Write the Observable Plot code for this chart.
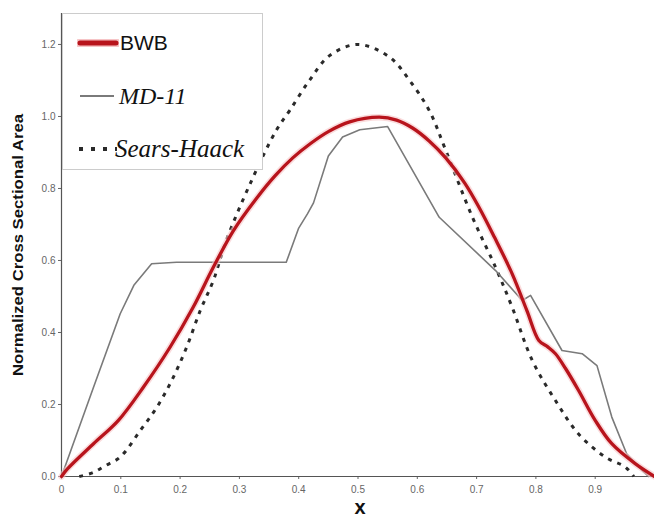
<!DOCTYPE html>
<html>
<head>
<meta charset="utf-8">
<script src="https://cdn.jsdelivr.net/npm/d3@7"></script>
<script src="https://cdn.jsdelivr.net/npm/@observablehq/plot@0.6"></script>
<style>
  html, body { margin: 0; padding: 0; background: #fff; }
  #wrap { position: relative; width: 654px; height: 520px; }
  #legend { position: absolute; left: 62px; top: 13px; width: 201px; height: 157px;
    border: 1px solid #ccc; background: #fff; box-sizing: border-box; }
  .item { position: absolute; left: 0; display: flex; align-items: center; height: 30px; }
  .lbl-sans { font-family: "Liberation Sans", Arial, sans-serif; font-size: 21px; color: #111; }
  .lbl-serif { font-family: "Liberation Serif", "Times New Roman", serif; font-style: italic; font-size: 24px; color: #111; }
</style>
</head>
<body>
<div id="wrap">
  <div id="chart"></div>
  <div id="legend"></div>
</div>
<script>
// ---- data ----
const seriesNames = ["BWB", "MD-11", "Sears-Haack"];

const bwbX = [0, 0.01, 0.054, 0.096, 0.138, 0.183, 0.222, 0.256, 0.29, 0.33, 0.36, 0.39, 0.42, 0.45, 0.486, 0.536, 0.565, 0.592, 0.62, 0.648, 0.68, 0.704, 0.73, 0.76, 0.785, 0.805, 0.82, 0.833, 0.85, 0.872, 0.9, 0.928, 0.968, 1.0];
const bwbY = [0, 0.021, 0.091, 0.156, 0.248, 0.359, 0.47, 0.581, 0.683, 0.775, 0.835, 0.885, 0.925, 0.958, 0.985, 0.998, 0.99, 0.968, 0.932, 0.885, 0.815, 0.748, 0.665, 0.563, 0.46, 0.378, 0.36, 0.341, 0.3, 0.239, 0.156, 0.091, 0.035, 0];

const mdX = [0, 0.054, 0.099, 0.122, 0.152, 0.194, 0.379, 0.40, 0.415, 0.425, 0.45, 0.474, 0.503, 0.55, 0.637, 0.732, 0.777, 0.791, 0.844, 0.878, 0.903, 0.928, 0.953, 0.979, 0.99];
const mdY = [0, 0.248, 0.452, 0.531, 0.591, 0.595, 0.595, 0.69, 0.73, 0.76, 0.89, 0.943, 0.963, 0.972, 0.72, 0.572, 0.489, 0.503, 0.35, 0.341, 0.308, 0.165, 0.063, 0.017, 0];

const shX = [0.03, 0.052, 0.074, 0.099, 0.133, 0.161, 0.186, 0.211, 0.234, 0.256, 0.278, 0.32, 0.362, 0.385, 0.418, 0.452, 0.5, 0.553, 0.587, 0.62, 0.648, 0.693, 0.732, 0.76, 0.794, 0.833, 0.872, 0.917, 0.951, 0.965];
const shY = [0, 0.01, 0.03, 0.054, 0.128, 0.193, 0.267, 0.359, 0.461, 0.544, 0.656, 0.82, 0.961, 1.017, 1.1, 1.169, 1.2, 1.165, 1.1, 1.017, 0.906, 0.72, 0.581, 0.47, 0.322, 0.211, 0.118, 0.054, 0.026, 0];

const xTicks = [0, 0.1, 0.2, 0.3, 0.4, 0.5, 0.6, 0.7, 0.8, 0.9];
const xTickLabels = ["0", "0.1", "0.2", "0.3", "0.4", "0.5", "0.6", "0.7", "0.8", "0.9"];
const yTicks = [0, 0.2, 0.4, 0.6, 0.8, 1.0, 1.2];
const yTickLabels = ["0.0", "0.2", "0.4", "0.6", "0.8", "1.0", "1.2"];
const xLabel = "x";
const yLabel = "Normalized Cross Sectional Area";

const colors = { "BWB": "#b8141c", "MD-11": "#7a7a7a", "Sears-Haack": "#2a2a2a" };

// ---- build tables ----
const bwb = bwbX.map((x, i) => ({ x, y: bwbY[i] }));
const md = mdX.map((x, i) => ({ x, y: mdY[i] }));
const sh = shX.map((x, i) => ({ x, y: shY[i] }));

const chart = Plot.plot({
  width: 654,
  height: 520,
  marginLeft: 61,
  marginRight: 0,
  marginTop: 13,
  marginBottom: 44,
  style: { fontFamily: "Liberation Sans, Arial, sans-serif", background: "#fff" },
  x: { domain: [0, 1] },
  y: { domain: [0, 1.286] },
  marks: [
    Plot.axisX({ ticks: xTicks, tickFormat: d => xTickLabels[xTicks.indexOf(d)], tickSize: 3, tickPadding: 6, fontSize: 10, color: "#666", label: null }),
    Plot.axisY({ ticks: yTicks, tickFormat: d => yTickLabels[yTicks.findIndex(t => Math.abs(t - d) < 1e-9)], tickSize: 3, tickPadding: 3, fontSize: 10, color: "#666", label: null }),
    Plot.ruleX([0], { stroke: "#555", strokeWidth: 1.2 }),
    Plot.ruleY([0], { stroke: "#555", strokeWidth: 1.2 }),
    Plot.line(sh, { x: "x", y: "y", curve: "catmull-rom", stroke: colors["Sears-Haack"], strokeWidth: 3, strokeDasharray: "4,6", strokeLinecap: "butt" }),
    Plot.line(md, { x: "x", y: "y", stroke: colors["MD-11"], strokeWidth: 1.6 }),
    Plot.line(bwb, { x: "x", y: "y", curve: "catmull-rom", stroke: "#f6c4c6", strokeWidth: 6.5, strokeOpacity: 0.6 }),
    Plot.line(bwb, { x: "x", y: "y", curve: "catmull-rom", stroke: colors["BWB"], strokeWidth: 3.3 }),
    Plot.text([yLabel], { frameAnchor: "left", textAnchor: "middle", rotate: -90, dx: -43, fontSize: 14, fontWeight: "bold", fill: "#111", className: "ylab" }),
    Plot.text([xLabel], { frameAnchor: "bottom", dy: 37, dx: 2, fontSize: 20, fontWeight: "bold", fill: "#111" })
  ]
});
// stretch the y label to the reference's length
d3.select(chart).selectAll(".ylab text").attr("textLength", 262).attr("lengthAdjust", "spacingAndGlyphs");
document.getElementById("chart").appendChild(chart);

// ---- legend ----
const legend = document.getElementById("legend");
const entries = [
  { name: seriesNames[0], top: 14, swatch: `<svg width="42" height="30"><line x1="2" y1="15" x2="40" y2="15" stroke="#f6c4c6" stroke-width="8" stroke-linecap="round"/><line x1="3" y1="15" x2="39" y2="15" stroke="${colors["BWB"]}" stroke-width="5" stroke-linecap="round"/></svg>`, cls: "lbl-sans", gap: 1, size: 21 },
  { name: seriesNames[1], top: 67, swatch: `<svg width="42" height="30"><line x1="3" y1="15" x2="37" y2="15" stroke="${colors["MD-11"]}" stroke-width="2"/></svg>`, cls: "lbl-serif", gap: 0, size: 24 },
  { name: seriesNames[2], top: 120, swatch: `<svg width="42" height="30"><line x1="2" y1="15" x2="40" y2="15" stroke="${colors["Sears-Haack"]}" stroke-width="4" stroke-dasharray="4,8"/></svg>`, cls: "lbl-serif", gap: -4, size: 25 }
];
for (const e of entries) {
  const d = document.createElement("div");
  d.className = "item";
  d.style.top = e.top + "px";
  d.style.left = "14px";
  d.innerHTML = e.swatch + `<span class="${e.cls}" style="margin-left:${e.gap}px;font-size:${e.size}px">${e.name}</span>`;
  legend.appendChild(d);
}
</script>
</body>
</html>
